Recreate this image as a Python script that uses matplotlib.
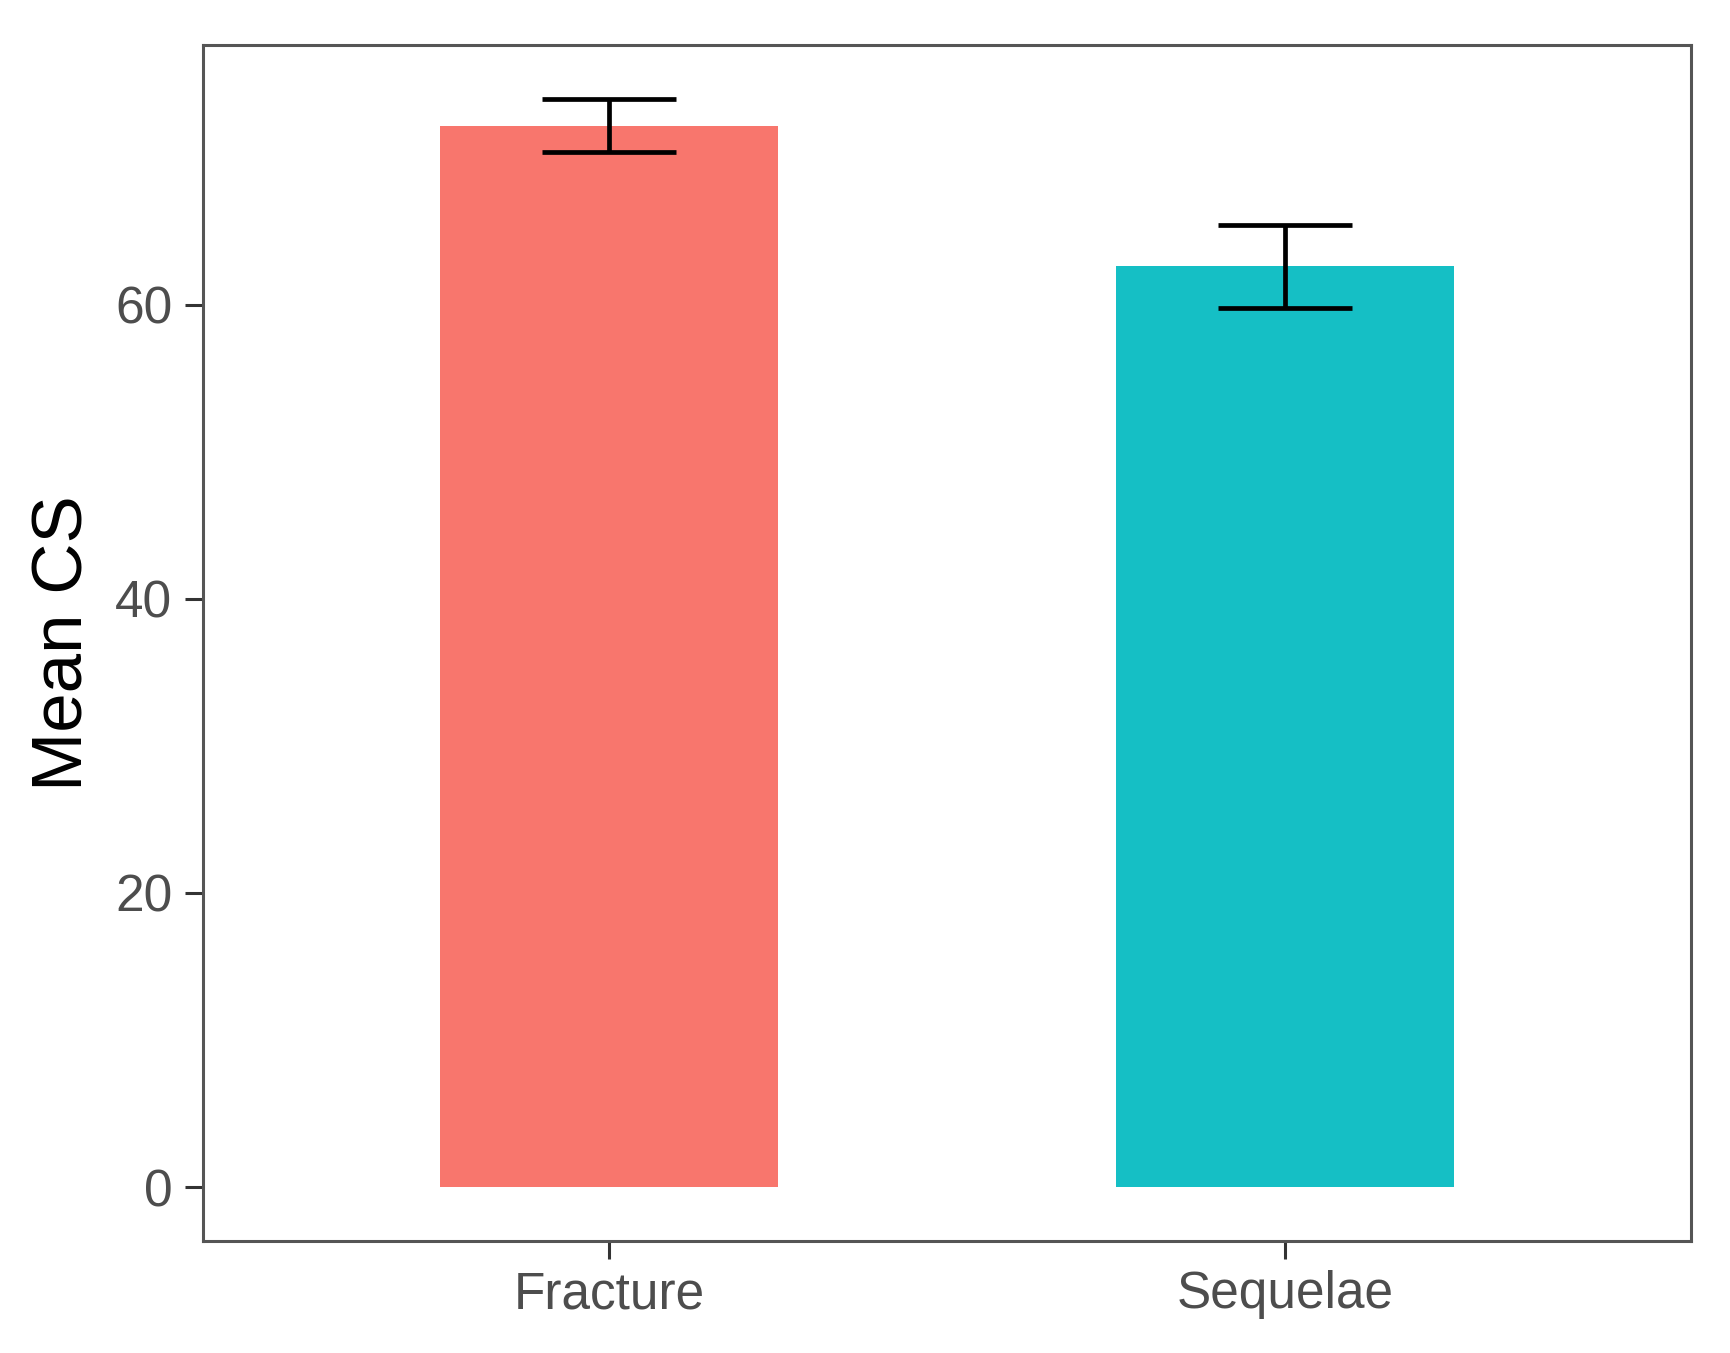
import matplotlib
matplotlib.use("Agg")
import matplotlib.pyplot as plt

categories = ["Fracture", "Sequelae"]
means = [72.15, 62.6]
errors = [1.8, 2.8]
bar_colors = ["#F8766D", "#15BFC5"]
yticks = [0, 20, 40, 60]

plt.rcParams['font.family'] = ['Liberation Sans', 'DejaVu Sans']

fig = plt.figure(figsize=(17.31, 13.53), dpi=100)
ax = fig.add_axes([203/1731, 1-1241/1353, (1691-203)/1731, (1241-45)/1353])

x = list(range(1, len(categories) + 1))
ax.bar(x, means, width=0.5, color=bar_colors, edgecolor='none', zorder=2)
ax.errorbar(x, means, yerr=errors, fmt='none', ecolor='black', elinewidth=3.4,
            capsize=48, capthick=3.4, zorder=3)

ax.set_xlim(0.4, 2.6)
top = max(m + e for m, e in zip(means, errors))
ax.set_ylim(-0.05 * top * 0.99, top * 1.05)
ax.set_xticks(x)
ax.set_xticklabels(categories)
ax.set_yticks(yticks)
ax.set_yticklabels([str(t) for t in yticks])

for s in ax.spines.values():
    s.set_color('#555555')
    s.set_linewidth(2.2)

ax.tick_params(axis='both', length=13, width=2.2, color='#333333',
               labelsize=37, labelcolor='#4D4D4D')
ax.tick_params(axis='y', pad=9)
ax.tick_params(axis='x', pad=8)

ax.set_ylabel("Mean CS", fontsize=51, color='black', labelpad=13)

fig.savefig("out.png", dpi=100, facecolor='white')
